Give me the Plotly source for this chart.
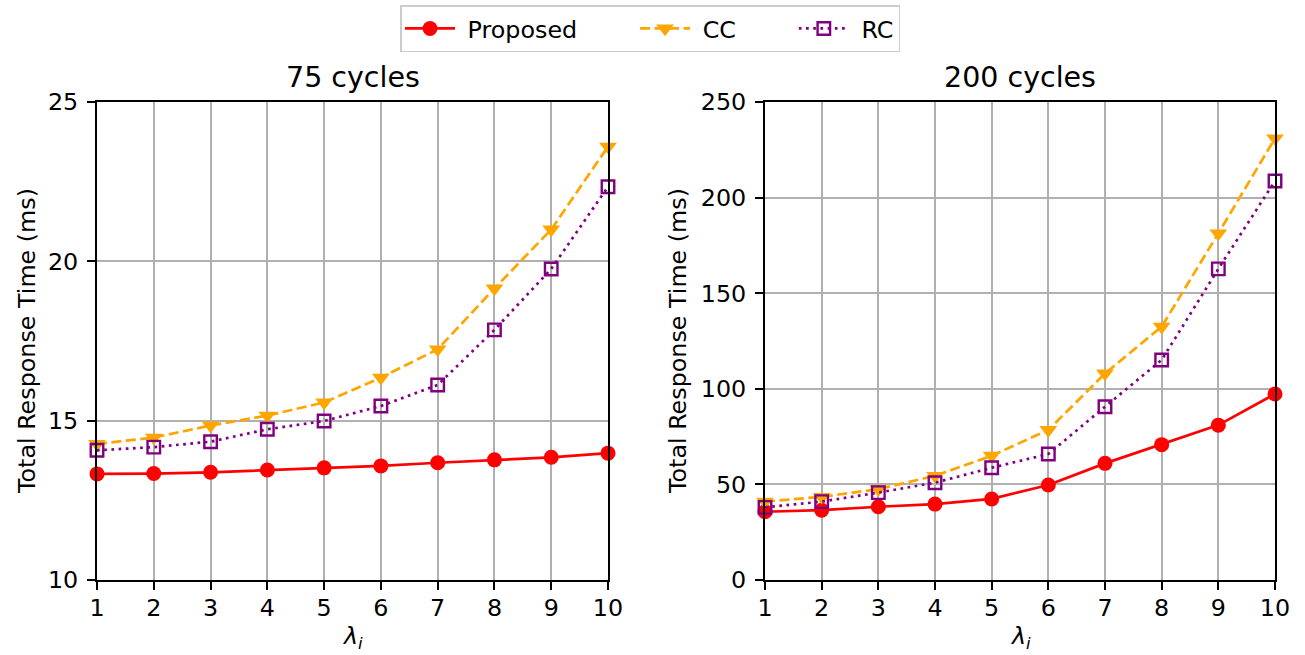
import plotly.graph_objects as go

lam = [1, 2, 3, 4, 5, 6, 7, 8, 9, 10]

# 75 cycles
prop_75 = [13.33, 13.34, 13.38, 13.45, 13.52, 13.58, 13.68, 13.77, 13.85, 13.98]
cc_75 = [14.27, 14.47, 14.85, 15.16, 15.57, 16.35, 17.24, 19.15, 21.0, 23.6]
rc_75 = [14.07, 14.17, 14.34, 14.73, 14.99, 15.46, 16.12, 17.85, 19.76, 22.34]

# 200 cycles
prop_200 = [35.7, 36.5, 38.3, 39.7, 42.4, 49.7, 61.0, 70.8, 81.0, 97.3]
cc_200 = [41.0, 43.5, 47.5, 54.5, 65.0, 78.5, 108.0, 132.5, 181.3, 231.0]
rc_200 = [38.0, 41.0, 45.7, 50.9, 58.7, 65.9, 90.6, 115.1, 162.7, 208.7]

titles = ["75 cycles", "200 cycles"]
series_names = ["Proposed", "CC", "RC"]
y_ticks_75 = [10, 15, 20, 25]
y_ticks_200 = [0, 50, 100, 150, 200, 250]

FONT = "DejaVu Sans"
FS = 23.8
W, H = 1305, 655
NB = "\u00a0"

fig = go.Figure()

styles = [
    ("#ff0000", "solid", dict(symbol="circle", size=15, color="#ff0000")),
    ("#ffa500", "10px,4.5px", dict(symbol="triangle-down", size=15.5, color="#ffa500")),
    ("#800080", "2.7px,4.5px", dict(symbol="square-open", size=12.5, color="#800080",
                                      line=dict(width=2.4, color="#800080"))),
]
data_sets = [(prop_75, cc_75, rc_75), (prop_200, cc_200, rc_200)]

for p, (xa, ya) in enumerate([("x", "y"), ("x2", "y2")]):
    for i, ((col, dash, mk), vals) in enumerate(zip(styles, data_sets[p])):
        nm = NB + series_names[i] + (NB * 7 if i < 2 else "")
        fig.add_trace(go.Scatter(
            x=lam, y=vals, mode="lines+markers", name=nm,
            line=dict(color=col, width=2.7, dash=dash),
            marker=mk, xaxis=xa, yaxis=ya, cliponaxis=False,
            showlegend=(p == 0), legendgroup=series_names[i],
        ))

common = dict(showgrid=True, gridcolor="#b0b0b0", gridwidth=1.9, showline=True,
              linecolor="black", linewidth=2, mirror=True, ticks="outside", ticklen=8,
              tickwidth=2, tickcolor="black", zeroline=False, automargin=False,
              tickfont=dict(family=FONT, size=FS, color="black"))

def xax(domain, anchor):
    return dict(common, domain=domain, range=[1, 10], tickvals=lam, anchor=anchor,
                ticklabelstandoff=-3)

def yax(domain, rng, tv, anchor):
    return dict(common, domain=domain, range=rng, tickvals=tv, anchor=anchor,
                ticklabelstandoff=4)

ydom = [1 - 580 / H, 1 - 102 / H]
fig.update_layout(
    width=W, height=H,
    margin=dict(l=0, r=0, t=0, b=0, pad=0, autoexpand=False),
    paper_bgcolor="white", plot_bgcolor="white",
    font=dict(family=FONT, color="black"),
    xaxis=xax([97 / W, 608 / W], "y"),
    yaxis=yax(ydom, [10, 25], y_ticks_75, "x"),
    xaxis2=xax([765 / W, 1275 / W], "y2"),
    yaxis2=yax(ydom, [0, 250], y_ticks_200, "x2"),
    legend=dict(orientation="h", x=650 / W, xanchor="center", y=1 - 5 / H, yanchor="top",
                bordercolor="#cccccc", borderwidth=1.5, bgcolor="white",
                font=dict(family=FONT, size=FS, color="black"),
                itemwidth=50, tracegroupgap=0),
)

annots = []
for cx, t in [((97 + 608) / 2, titles[0]), ((765 + 1275) / 2, titles[1])]:
    annots.append(dict(text=t, x=cx / W, y=1 - 77 / H, xref="paper", yref="paper",
                       showarrow=False, font=dict(family=FONT, size=28.5, color="black"),
                       xanchor="center", yanchor="middle"))
    annots.append(dict(text="<i>λ<sub>i</sub></i>", x=cx / W, y=1 - 637 / H, xref="paper",
                       yref="paper", showarrow=False,
                       font=dict(family=FONT, size=FS, color="black"),
                       xanchor="center", yanchor="middle"))
for lx in [27, 678]:
    annots.append(dict(text="Total Response Time (ms)", x=lx / W, y=1 - 341 / H,
                       xref="paper", yref="paper", showarrow=False, textangle=-90,
                       font=dict(family=FONT, size=FS, color="black"),
                       xanchor="center", yanchor="middle"))
fig.update_layout(annotations=annots)

fig.write_html("out.html")
